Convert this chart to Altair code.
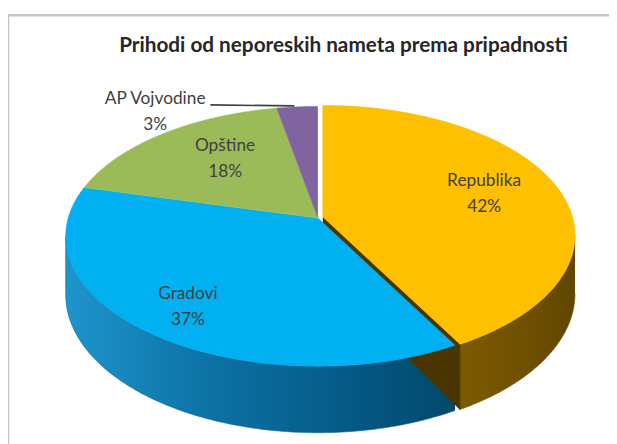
import altair as alt
import pandas as pd

# ---- data ----
title_text = "Prihodi od neporeskih nameta prema pripadnosti"
names = ["Republika", "Gradovi", "Opštine", "AP Vojvodine"]
values = [42, 37, 18, 3]
top_colors = ["#FFC000", "#00B0F0", "#9BBB59", "#8064A2"]

df = pd.DataFrame({"name": names, "value": values, "k": list(range(len(names)))})

# ---- geometry / style constants (pixels in plot area) ----
W, H = 609, 436
CX, CY = 314, 210          # apex of the pie
R, S, K, D = 253, 129, 0.14, 58   # x radius, y radius, perspective, depth
EX, EY = 5, -1             # explode offset of first slice
N = 120
FONT = "Lato"
LABEL_SIZE = 17.5

xs = alt.X("px:Q", scale=alt.Scale(domain=[0, W], nice=False, zero=False), axis=None)
ys = alt.Y("py:Q", scale=alt.Scale(domain=[0, H], nice=False, zero=False, reverse=True), axis=None)

PX = f"{CX} + datum.ox + {R}*datum.r*sin(datum.t)/(1+{K}*datum.r*cos(datum.t))"
PY = (f"{CY} + datum.oy - {S}*datum.r*cos(datum.t)/(1+{K}*datum.r*cos(datum.t))"
      f" + datum.dep*{D}/(1+{K}*datum.r*cos(datum.t))")


def base():
    return (
        alt.Chart(df)
        .transform_joinaggregate(total="sum(value)")
        .transform_window(cum="sum(value)", sort=[alt.SortField("k")], frame=[None, 0])
        .transform_calculate(a0="2*PI*(datum.cum-datum.value)/datum.total")
        .transform_calculate(a1="2*PI*datum.cum/datum.total")
        .transform_calculate(ox=f"datum.k==0 ? {EX} : 0")
        .transform_calculate(oy=f"datum.k==0 ? {EY} : 0")
    )


def project(ch):
    return ch.transform_calculate(px=PX).transform_calculate(py=PY)


top_scale = alt.Scale(domain=names, range=top_colors)

# ---- top faces ----
top = project(
    base()
    .transform_calculate(idx=f"sequence(0,{N + 2})")
    .transform_flatten(["idx"])
    .transform_calculate(t=f"datum.a0+(datum.a1-datum.a0)*max(datum.idx-1,0)/{N}")
    .transform_calculate(r="datum.idx==0 ? 0 : 1")
    .transform_calculate(dep="0")
).mark_line(strokeWidth=0.6, strokeJoin="round").encode(
    x=xs, y=ys, order="idx:Q",
    color=alt.Color("name:N", scale=top_scale, legend=None),
    fill=alt.Fill("name:N", scale=top_scale, legend=None),
)


# ---- side walls (visible front part) ----
def side(k, grad, stroke):
    return project(
        base()
        .transform_filter(f"datum.k=={k}")
        .transform_calculate(b0=f"max(datum.a0, acos(-{K}))")
        .transform_calculate(b1=f"min(datum.a1, 2*PI-acos(-{K}))")
        .transform_filter("datum.b1 > datum.b0")
        .transform_calculate(idx=f"sequence(0,{2 * N + 2})")
        .transform_flatten(["idx"])
        .transform_calculate(
            t=f"datum.idx<={N} ? datum.b0+(datum.b1-datum.b0)*datum.idx/{N} : "
              f"datum.b1-(datum.b1-datum.b0)*(datum.idx-{N}-1)/{N}")
        .transform_calculate(r="1")
        .transform_calculate(dep=f"datum.idx<={N} ? 0 : 1")
    ).mark_line(fill=grad, stroke=stroke, strokeWidth=0.6).encode(
        x=xs, y=ys, order="idx:Q", detail="name:N")


grad_rep = alt.LinearGradient(
    gradient="linear", x1=0, x2=1, y1=0, y2=0,
    stops=[alt.GradientStop(color="#7c5a00", offset=0),
           alt.GradientStop(color="#6e5000", offset=0.6),
           alt.GradientStop(color="#5f4500", offset=1)])
grad_grad = alt.LinearGradient(
    gradient="linear", x1=0, x2=1, y1=0, y2=0,
    stops=[alt.GradientStop(color="#1e95cc", offset=0),
           alt.GradientStop(color="#0d73a6", offset=0.35),
           alt.GradientStop(color="#045884", offset=0.75),
           alt.GradientStop(color="#03486c", offset=1)])

side_rep = side(0, grad_rep, "#6e5000")
side_grad = side(1, grad_grad, "#0a6699")

# ---- cut wall of the exploded slice ----
wall = project(
    base()
    .transform_filter("datum.k==0")
    .transform_calculate(idx="sequence(0,4)")
    .transform_flatten(["idx"])
    .transform_calculate(t="datum.a1")
    .transform_calculate(r="(datum.idx==1 || datum.idx==2) ? 1 : 0")
    .transform_calculate(dep="datum.idx>=2 ? 1 : 0")
).mark_line(fill="#4a3400", stroke="#4a3400", strokeWidth=0.6).encode(
    x=xs, y=ys, order="idx:Q")

# ---- labels inside ----
labels_in = project(
    base()
    .transform_filter("datum.value/datum.total >= 0.05")
    .transform_calculate(t="(datum.a0+datum.a1)/2")
    .transform_calculate(r="datum.k==1 ? 0.83 : 0.64")
    .transform_calculate(dep="0")
    .transform_calculate(label="datum.name + '\\n' + datum.value + '%'")
).mark_text(font=FONT, fontSize=LABEL_SIZE, lineBreak="\n", lineHeight=26,
            color="#404040", align="center", baseline="middle", dx=10, dy=-16).encode(
    x=xs, y=ys, text="label:N")

# ---- outside label with leader ----
out_base = (
    base()
    .transform_filter("datum.value/datum.total < 0.05")
    .transform_calculate(t="(datum.a0+datum.a1)/2")
    .transform_calculate(r="1")
    .transform_calculate(dep="0")
)
label_out = project(
    out_base.transform_calculate(label="datum.name + '\\n' + datum.value + '%'")
).mark_text(font=FONT, fontSize=LABEL_SIZE, lineBreak="\n", lineHeight=26,
            color="#404040", align="center", baseline="middle", dx=-144, dy=-8).encode(
    x=xs, y=ys, text="label:N")

leader = (
    project(
        out_base.transform_calculate(idx="sequence(0,2)").transform_flatten(["idx"])
    )
    .transform_calculate(px="datum.px + (datum.idx==0 ? -88 : -3)")
    .transform_calculate(py="datum.py + (datum.idx==0 ? -2 : -1)")
    .mark_line(color="#404040", strokeWidth=1.6)
    .encode(x=xs, y=ys, order="idx:Q")
)

# ---- title and frame ----
one = pd.DataFrame({"t": [title_text]})
title = alt.Chart(one).mark_text(font=FONT, fontSize=21, fontWeight="bold", color="#262626",
                                 align="center", baseline="middle").encode(
    text="t:N", x=alt.value(340), y=alt.value(36))
frame_top = alt.Chart(one).mark_rule(color="#c4c4c4", strokeWidth=2.5).encode(
    x=alt.value(-1), x2=alt.value(620), y=alt.value(4.5))
frame_left = alt.Chart(one).mark_rule(color="#c4c4c4", strokeWidth=2.5).encode(
    x=alt.value(0), y=alt.value(4), y2=alt.value(440))

chart = (
    alt.layer(frame_top, frame_left, side_rep, side_grad, wall, top,
              labels_in, leader, label_out, title)
    .resolve_scale(color="independent", fill="independent")
    .properties(width=W, height=H, padding=0, autosize="none")
    .configure_view(strokeWidth=0)
)

chart.save("out.html", embed_options={"renderer": "svg", "actions": False})
